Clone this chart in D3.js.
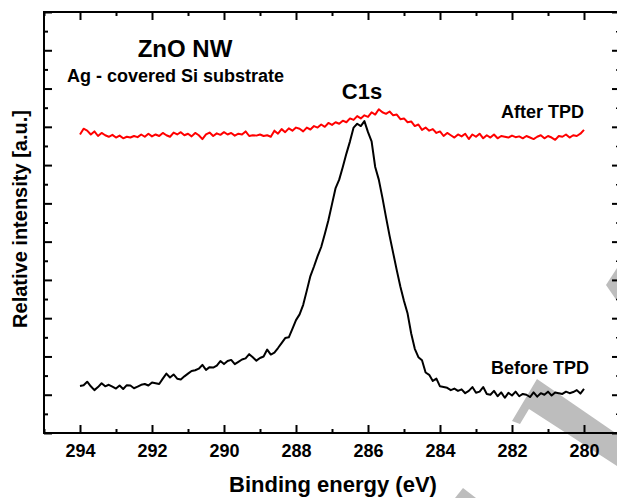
<!DOCTYPE html>
<html>
<head>
<meta charset="utf-8">
<script src="https://cdn.jsdelivr.net/npm/d3@7"></script>
<style>
  html, body { margin: 0; padding: 0; background: #fff; }
  svg { display: block; }
  text { font-family: "Liberation Sans", Arial, sans-serif; font-weight: bold; fill: #000; }
</style>
</head>
<body>
<script>
// C1s XPS spectra, ZnO nanowires on Ag-covered Si, before and after TPD
const energies = [
  294.0, 293.9, 293.8, 293.7, 293.6, 293.5, 293.4, 293.3, 293.2, 293.1,
  293.0, 292.9, 292.8, 292.7, 292.6, 292.5, 292.4, 292.3, 292.2, 292.1,
  292.0, 291.9, 291.8, 291.7, 291.6, 291.5, 291.4, 291.3, 291.2, 291.1,
  291.0, 290.9, 290.8, 290.7, 290.6, 290.5, 290.4, 290.3, 290.2, 290.1,
  290.0, 289.9, 289.8, 289.7, 289.6, 289.5, 289.4, 289.3, 289.2, 289.1,
  289.0, 288.9, 288.8, 288.7, 288.6, 288.5, 288.4, 288.3, 288.2, 288.1,
  288.0, 287.9, 287.8, 287.7, 287.6, 287.5, 287.4, 287.3, 287.2, 287.1,
  287.0, 286.9, 286.8, 286.7, 286.6, 286.5, 286.4, 286.3, 286.2, 286.1,
  286.0, 285.9, 285.8, 285.7, 285.6, 285.5, 285.4, 285.3, 285.2, 285.1,
  285.0, 284.9, 284.8, 284.7, 284.6, 284.5, 284.4, 284.3, 284.2, 284.1,
  284.0, 283.9, 283.8, 283.7, 283.6, 283.5, 283.4, 283.3, 283.2, 283.1,
  283.0, 282.9, 282.8, 282.7, 282.6, 282.5, 282.4, 282.3, 282.2, 282.1,
  282.0, 281.9, 281.8, 281.7, 281.6, 281.5, 281.4, 281.3, 281.2, 281.1,
  281.0, 280.9, 280.8, 280.7, 280.6, 280.5, 280.4, 280.3, 280.2, 280.1,
  280.0
];

const beforeTPD = [
  1.23, 1.25, 1.34, 1.22, 1.12, 1.20, 1.30, 1.22, 1.26, 1.21,
  1.16, 1.24, 1.15, 1.25, 1.24, 1.17, 1.21, 1.26, 1.28, 1.24,
  1.32, 1.30, 1.28, 1.42, 1.55, 1.45, 1.53, 1.42, 1.40, 1.48,
  1.55, 1.62, 1.64, 1.68, 1.78, 1.65, 1.72, 1.71, 1.76, 1.88,
  1.80, 1.88, 1.91, 1.80, 1.86, 1.92, 1.95, 2.06, 1.98, 1.89,
  1.96, 2.00, 2.18, 2.05, 2.10, 2.22, 2.35, 2.48, 2.50, 2.72,
  2.95, 3.10, 3.35, 3.72, 4.10, 4.35, 4.62, 4.86, 5.20, 5.56,
  5.98, 6.40, 6.62, 6.95, 7.30, 7.62, 7.98, 8.08, 8.02, 8.15,
  7.86, 7.62, 6.95, 6.62, 6.15, 5.64, 5.15, 4.70, 4.25, 3.82,
  3.45, 3.12, 2.60, 2.20, 1.98, 1.90, 1.58, 1.52, 1.36, 1.42,
  1.22, 1.20, 1.18, 1.12, 1.16, 1.10, 1.14, 1.04, 1.10, 1.20,
  1.05, 1.08, 1.20, 1.02, 1.00, 1.10, 0.96, 1.06, 0.92, 1.05,
  0.98, 1.08, 0.96, 1.02, 1.00, 0.94, 1.06, 0.95, 1.04, 1.00,
  1.08, 0.98, 1.06, 1.04, 1.02, 1.08, 1.04, 1.07, 1.12, 1.03,
  1.15
];

const afterTPD = [
  7.80, 7.95, 7.90, 7.80, 7.88, 7.76, 7.84, 7.78, 7.74, 7.79,
  7.72, 7.77, 7.70, 7.74, 7.72, 7.76, 7.73, 7.80, 7.74, 7.82,
  7.75, 7.80, 7.76, 7.84, 7.78, 7.74, 7.85, 7.80, 7.86, 7.78,
  7.82, 7.75, 7.84, 7.78, 7.68, 7.80, 7.85, 7.76, 7.83, 7.79,
  7.86, 7.80, 7.84, 7.77, 7.82, 7.80, 7.88, 7.76, 7.78, 7.77,
  7.80, 7.76, 7.78, 7.74, 7.90, 7.82, 7.94, 7.86, 7.96, 7.90,
  7.98, 7.95, 7.88, 7.98, 7.93, 8.02, 7.98, 8.06, 8.00, 8.10,
  8.05, 8.12, 8.08, 8.16, 8.12, 8.22, 8.18, 8.28, 8.22, 8.30,
  8.26, 8.38, 8.32, 8.46, 8.38, 8.34, 8.40, 8.30, 8.32, 8.20,
  8.22, 8.12, 8.14, 8.02, 8.06, 7.92, 7.98, 7.90, 7.94, 7.84,
  7.88, 7.76, 7.84, 7.78, 7.72, 7.80, 7.75, 7.82, 7.68, 7.80,
  7.74, 7.82, 7.70, 7.78, 7.72, 7.80, 7.70, 7.76, 7.74, 7.72,
  7.77, 7.73, 7.75, 7.70, 7.76, 7.72, 7.68, 7.74, 7.78, 7.70,
  7.76, 7.72, 7.66, 7.76, 7.74, 7.80, 7.72, 7.78, 7.76, 7.82,
  7.92
];

const xMajorTicks = [294, 292, 290, 288, 286, 284, 282, 280];
const xMinorTicks = [295, 293, 291, 289, 287, 285, 283, 281, 279];
const yMajorTicks = [0, 1, 2, 3, 4, 5, 6, 7, 8, 9, 10, 11];
const yMinorTicks = [0.5, 1.5, 2.5, 3.5, 4.5, 5.5, 6.5, 7.5, 8.5, 9.5, 10.5];

const W = 617, H = 498;
const plot = { left: 44, top: 12, right: 620, bottom: 433 };

const svg = d3.select("body").append("svg")
  .attr("width", W).attr("height", H)
  .style("background", "#fff");

const x = d3.scaleLinear().domain([295, 279]).range([plot.left, plot.right]);
const y = d3.scaleLinear().domain([0, 11]).range([plot.bottom, plot.top]);

// light grey stamp strokes in the lower right corner, behind the chart
const stamp = svg.append("g").attr("fill", "#bdbdbd");
[
  [[512, 421], [537, 379], [617, 434], [617, 466], [529, 409], [520, 424]],
  [[617, 268], [606, 285], [617, 301]],
  [[455, 498], [463, 488], [476, 498]]
].forEach(pts => stamp.append("path").attr("d", d3.line()(pts) + "Z"));

// spectra
const line = d3.line()
  .x((d, i) => x(energies[i]))
  .y(d => y(d));

svg.append("path").datum(afterTPD)
  .attr("fill", "none").attr("stroke", "#ff0000")
  .attr("stroke-width", 2).attr("stroke-linejoin", "round")
  .attr("d", line);

svg.append("path").datum(beforeTPD)
  .attr("fill", "none").attr("stroke", "#000")
  .attr("stroke-width", 2).attr("stroke-linejoin", "round")
  .attr("d", line);

// axes with inward ticks on all four sides
function styleAxis(g, w) {
  g.select(".domain").remove();
  g.selectAll(".tick line").attr("stroke", "#000").attr("stroke-width", w);
}

svg.append("g").attr("transform", `translate(0,${plot.bottom})`)
  .call(d3.axisBottom(x).tickValues(xMajorTicks).tickSize(-8).tickPadding(11).tickFormat(d3.format("d")))
  .call(g => styleAxis(g, 2))
  .call(g => g.selectAll(".tick text")
    .style("font-family", '"Liberation Sans", Arial, sans-serif')
    .style("font-weight", "bold").style("font-size", "18px").attr("fill", "#000"));

svg.append("g").attr("transform", `translate(0,${plot.bottom})`)
  .call(d3.axisBottom(x).tickValues(xMinorTicks).tickSize(-4).tickFormat(""))
  .call(g => styleAxis(g, 2));

svg.append("g").attr("transform", `translate(0,${plot.top})`)
  .call(d3.axisTop(x).tickValues(xMajorTicks).tickSize(-8).tickFormat(""))
  .call(g => styleAxis(g, 2));

svg.append("g").attr("transform", `translate(0,${plot.top})`)
  .call(d3.axisTop(x).tickValues(xMinorTicks).tickSize(-4).tickFormat(""))
  .call(g => styleAxis(g, 2));

svg.append("g").attr("transform", `translate(${plot.left},0)`)
  .call(d3.axisLeft(y).tickValues(yMajorTicks).tickSize(-8).tickFormat(""))
  .call(g => styleAxis(g, 2));

svg.append("g").attr("transform", `translate(${plot.left},0)`)
  .call(d3.axisLeft(y).tickValues(yMinorTicks).tickSize(-4).tickFormat(""))
  .call(g => styleAxis(g, 2));

svg.append("g").attr("transform", `translate(${plot.right},0)`)
  .call(d3.axisRight(y).tickValues(yMajorTicks).tickSize(-8).tickFormat(""))
  .call(g => styleAxis(g, 2));

svg.append("g").attr("transform", `translate(${plot.right},0)`)
  .call(d3.axisRight(y).tickValues(yMinorTicks).tickSize(-4).tickFormat(""))
  .call(g => styleAxis(g, 1.5));

// frame
svg.append("rect")
  .attr("x", plot.left).attr("y", plot.top)
  .attr("width", plot.right - plot.left).attr("height", plot.bottom - plot.top)
  .attr("fill", "none").attr("stroke", "#000").attr("stroke-width", 2);

// axis titles
svg.append("text")
  .attr("x", 333).attr("y", 492)
  .attr("text-anchor", "middle").style("font-size", "22px")
  .text("Binding energy (eV)");

svg.append("text")
  .attr("transform", "translate(27,219) rotate(-90)")
  .attr("text-anchor", "middle").style("font-size", "20px")
  .text("Relative intensity [a.u.]");

// annotations
svg.append("text").attr("x", 185).attr("y", 57)
  .attr("text-anchor", "middle").style("font-size", "24px").text("ZnO NW");
svg.append("text").attr("x", 67).attr("y", 82)
  .style("font-size", "18px").text("Ag - covered Si substrate");
svg.append("text").attr("x", 362).attr("y", 99)
  .attr("text-anchor", "middle").style("font-size", "22px").text("C1s");
svg.append("text").attr("x", 584).attr("y", 118)
  .attr("text-anchor", "end").style("font-size", "18px").text("After TPD");
svg.append("text").attr("x", 589).attr("y", 374)
  .attr("text-anchor", "end").style("font-size", "18px").text("Before TPD");
</script>
</body>
</html>
